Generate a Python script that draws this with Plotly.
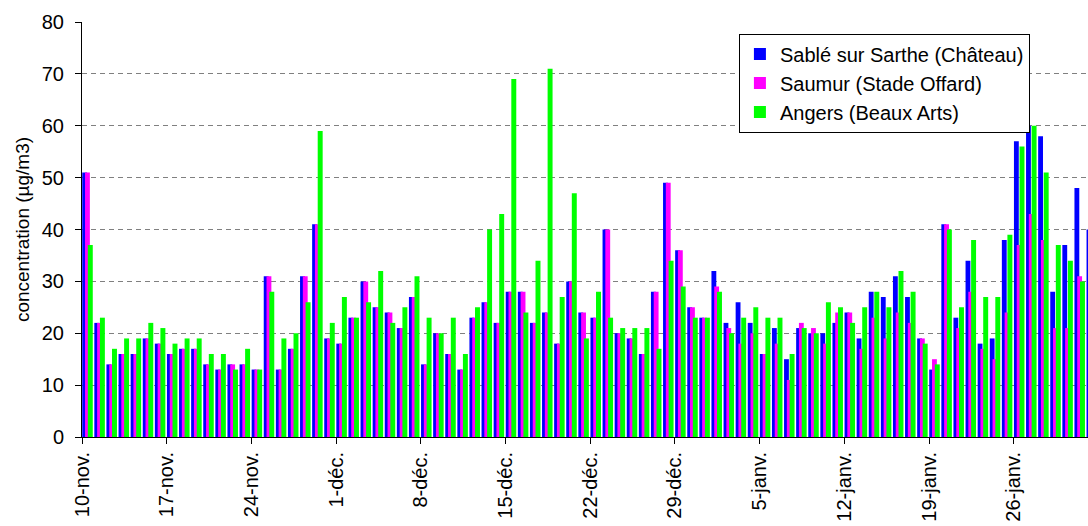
import plotly.graph_objects as go

# Day index 0 = 10-nov.
days = list(range(84))

sable = [51, 22, 14, 16, 16, 19, 18, 16, 17, 17, 14, 13, 14, 14, 13,
         31, 13, 17, 31, 41, 19, 18, 23, 30, 25, 24, 21, 27, 14, 20,
         16, 13, 23, 26, 22, 28, 28, 22, 24, 18, 30, 24, 23, 40, 20,
         19, 16, 28, 49, 36, 25, 23, 32, 22, 26, 22, 16, 21, 15, 21,
         20, 20, 22, 24, 19, 28, 27, 31, 27, 19, 13, 41, 23, 34, 18,
         19, 38, 57, 60, 58, 28, 37, 48, 40]

saumur = [51, 22, 14, 16, 16, 19, 18, 16, 17, 17, 14, 13, 14, 14, 13,
          31, 13, 17, 31, 41, 19, 18, 23, 30, 25, 24, 21, 27, 14, 20,
          16, 13, 23, 26, 22, 28, 28, 22, 24, 18, 30, 24, 23, 40, 20,
          19, 16, 28, 49, 36, 25, 23, 29, 21, 18, 20, 16, 18, 11, 22,
          21, 18, 24, 24, 17, 23, 19, 24, 22, 19, 15, 41, 21, 28, 17,
          15, 24, 37, 43, 38, 21, 21, 31, 26]

angers = [37, 23, 17, 19, 19, 22, 21, 18, 19, 19, 16, 16, 13, 17, 13,
          28, 19, 20, 26, 59, 22, 27, 23, 26, 32, 22, 25, 31, 23, 20,
          23, 16, 25, 40, 43, 69, 24, 34, 71, 27, 47, 19, 28, 23, 21,
          21, 21, 17, 34, 29, 23, 23, 28, 20, 23, 25, 23, 23, 16, 21,
          20, 26, 25, 22, 25, 28, 25, 32, 28, 18, 14, 40, 25, 38, 27,
          27, 39, 56, 60, 51, 37, 34, 30, 30]

tick_days = [0, 7, 14, 21, 28, 35, 42, 49, 56, 63, 70, 77]
tick_labels = ["10-nov.", "17-nov.", "24-nov.", "1-déc.", "8-déc.", "15-déc.",
               "22-déc.", "29-déc.", "5-janv.", "12-janv.", "19-janv.", "26-janv."]

FONT = "Liberation Sans, Arial, sans-serif"

fig = go.Figure()
fig.add_trace(go.Bar(x=days, y=sable, name="Sablé sur Sarthe (Château)",
                     marker=dict(color="#0000FF", line=dict(width=0)),
                     offset=0.02, width=0.40))
fig.add_trace(go.Bar(x=days, y=saumur, name="Saumur (Stade Offard)",
                     marker=dict(color="#FF00FF", line=dict(width=0)),
                     offset=0.25, width=0.40))
fig.add_trace(go.Bar(x=days, y=angers, name="Angers (Beaux Arts)",
                     marker=dict(color="#00FF00", line=dict(width=0)),
                     offset=0.48, width=0.41))

fig.update_layout(
    width=1088, height=526,
    margin=dict(l=82, r=0, t=22, b=89, pad=0),
    barmode="overlay",
    plot_bgcolor="white", paper_bgcolor="white",
    font=dict(family=FONT, size=20, color="black"),
    showlegend=True,
    legend=dict(x=0.653, y=0.972, xanchor="left", yanchor="top",
                bgcolor="white", bordercolor="black", borderwidth=1,
                font=dict(size=20, family=FONT), tracegroupgap=0,
                itemwidth=30, itemsizing="constant"),
    xaxis=dict(range=[0, 83.14], tickmode="array", tickvals=tick_days,
               ticktext=tick_labels, tickangle=-90, ticks="outside",
               ticklen=6, tickcolor="black", showline=True, linecolor="black",
               linewidth=1, showgrid=False, zeroline=False,
               tickfont=dict(size=20, family=FONT)),
    yaxis=dict(range=[0, 80], dtick=10, ticks="outside", ticklen=6,
               tickcolor="black", showline=True, linecolor="black", linewidth=1,
               showgrid=True, gridcolor="#808080", gridwidth=1, griddash="5px,4px",
               zeroline=False, tickfont=dict(size=20, family=FONT),
               ticklabelstandoff=7,
               title=dict(text="concentration (µg/m3)", font=dict(size=19, family=FONT),
                          standoff=7)),
)

fig.write_html("out.html", config={"displayModeBar": False},
               post_script="document.body.style.margin='0';document.body.style.overflow='hidden';")
